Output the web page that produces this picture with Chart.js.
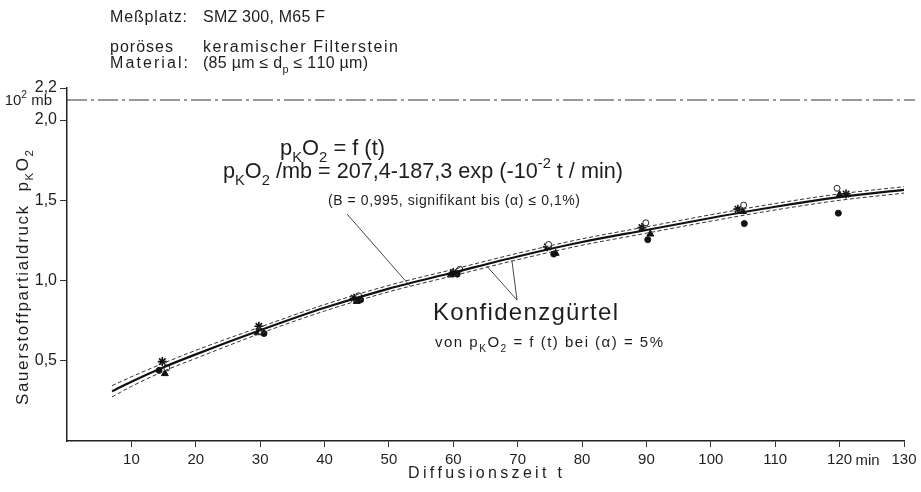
<!DOCTYPE html>
<html><head><meta charset="utf-8">
<script src="https://cdn.jsdelivr.net/npm/chart.js@4.4.0/dist/chart.umd.min.js"></script>
<style>
html,body{margin:0;padding:0;background:#fff;}
#wrap{width:921px;height:492px;position:relative;}
</style></head><body>
<div id="wrap"><canvas id="c" width="921" height="492"></canvas></div>
<script>
// ---- data ----
const xTickValues = [10,20,30,40,50,60,70,80,90,100,110,120,130];
const yTickValues = [0.5,1.0,1.5,2.0,2.2];

const fitT  = [7, 10, 15, 20, 30, 40, 50, 60, 70, 80, 90, 100, 110, 120, 130];
const fitP  = [0.31, 0.37, 0.46, 0.54, 0.69, 0.83, 0.95, 1.05, 1.15, 1.24, 1.315, 1.39, 1.46, 1.52, 1.565];
const bandUpperP = [0.345, 0.40, 0.485, 0.565, 0.71, 0.85, 0.97, 1.07, 1.17, 1.26, 1.335, 1.41, 1.48, 1.54, 1.585];
const bandLowerP = [0.275, 0.34, 0.435, 0.515, 0.67, 0.81, 0.93, 1.03, 1.13, 1.22, 1.295, 1.37, 1.44, 1.50, 1.545];

const refLineT = [0, 131.7];
const refLineP = [2.125, 2.125];

const dotT   = [14.3, 30.6, 45.6, 60.6, 75.6, 90.2, 105.2, 119.8];
const dotP   = [0.44, 0.67, 0.88, 1.04, 1.165, 1.255, 1.355, 1.42];
const circT  = [15.5, 30.2, 45.3, 61.0, 74.8, 89.9, 105.1, 119.6];
const circP  = [0.455, 0.68, 0.905, 1.07, 1.225, 1.36, 1.47, 1.575];
const triT   = [15.2, 29.6, 45.0, 59.6, 75.9, 90.6, 105.0, 120.0];
const triP   = [0.42, 0.675, 0.87, 1.035, 1.17, 1.29, 1.43, 1.535];
const starT  = [14.8, 29.8, 44.6, 60.0, 74.6, 89.3, 104.2, 121.0];
const starP  = [0.495, 0.715, 0.89, 1.05, 1.21, 1.33, 1.445, 1.54];

// ---- helpers ----
const FONT = '"Liberation Sans", Arial, sans-serif';
const INK = '#1e1e1e';
const pts = (xs, ys) => xs.map((x, i) => ({x, y: ys[i]}));

function drawRich(ctx, parts, x, y, size, o = {}) {
  const fam = o.family || FONT;
  const segs = parts.map(p => {
    const t = Array.isArray(p) ? p[0] : p;
    const m = Array.isArray(p) ? (p[1] || '') : '';
    const s = m ? size * 0.68 : size;
    const dy = m === 'sub' ? size * 0.32 : (m === 'sup' ? -size * 0.45 : 0);
    return {t, s, dy};
  });
  let W0 = 0, n = 0;
  for (const g of segs) {
    ctx.font = g.s + 'px ' + fam;
    for (const ch of g.t) { W0 += ctx.measureText(ch).width; n++; }
  }
  let extra = 0, sx = 1;
  if (o.width) {
    extra = (o.width - W0) / Math.max(1, n - 1);
    if (extra < 0) { extra = 0; sx = o.width / W0; }
  }
  const total = o.width || W0;
  const sxp = o.align === 'center' ? x - total / 2 : (o.align === 'right' ? x - total : x);
  ctx.save();
  ctx.translate(sxp, y);
  if (o.rotate) ctx.rotate(o.rotate);
  ctx.scale(sx, 1);
  ctx.fillStyle = o.color || INK;
  ctx.textAlign = 'left';
  ctx.textBaseline = 'alphabetic';
  let cx = 0;
  for (const g of segs) {
    ctx.font = g.s + 'px ' + fam;
    for (const ch of g.t) { ctx.fillText(ch, cx, g.dy); cx += ctx.measureText(ch).width + extra; }
  }
  ctx.restore();
}

const textPlugin = {
  id: 'texts',
  afterDraw(chart) {
    const ctx = chart.ctx;
    const xs = chart.scales.x, ys = chart.scales.y;
    const P = (t, v) => [xs.getPixelForValue(t), ys.getPixelForValue(v)];

    // header
    drawRich(ctx, ['Meßplatz:'], 110, 22, 16, {width: 77});
    drawRich(ctx, ['SMZ 300, M65 F'], 203, 22, 16, {width: 122});
    drawRich(ctx, ['poröses'], 110, 52, 16, {width: 63});
    drawRich(ctx, ['keramischer Filterstein'], 203, 52, 16, {width: 195});
    drawRich(ctx, ['Material:'], 110, 68, 16, {width: 78});
    drawRich(ctx, ['(85 µm ≤ d', ['p', 'sub'], ' ≤ 110 µm)'], 203, 68, 16, {width: 165});

    // unit label
    drawRich(ctx, ['10', ['2', 'sup'], ' mb'], 52, 105, 15, {align: 'right'});

    // equation block
    drawRich(ctx, ['p', ['K', 'sub'], 'O', ['2', 'sub'], ' = f (t)'], 280, 155, 22, {width: 105});
    drawRich(ctx, ['p', ['K', 'sub'], 'O', ['2', 'sub'], ' /mb = 207,4-187,3 exp (-10', ['-2', 'sup'], ' t / min)'], 223, 178, 22, {width: 400});
    drawRich(ctx, ['(B = 0,995, signifikant bis (α) ≤ 0,1%)'], 328, 205, 14, {width: 252});

    // Konfidenz labels
    drawRich(ctx, ['Konfidenzgürtel'], 433, 320, 24, {width: 185});
    drawRich(ctx, ['von p', ['K', 'sub'], 'O', ['2', 'sub'], ' = f (t) bei (α) = 5%'], 435, 347, 15, {width: 228});

    // leader lines
    ctx.save();
    ctx.strokeStyle = '#333';
    ctx.lineWidth = 0.9;
    ctx.beginPath();
    ctx.moveTo(347, 214); ctx.lineTo(...P(53.3, 0.965));
    ctx.moveTo(517, 300); ctx.lineTo(...P(65.2, 1.09));
    ctx.moveTo(517, 300); ctx.lineTo(...P(69.1, 1.125));
    ctx.stroke();
    ctx.restore();

    // axis titles
    drawRich(ctx, ['Sauerstoffpartialdruck  p', ['K', 'sub'], 'O', ['2', 'sub']], 28, 405, 17, {width: 255, rotate: -Math.PI / 2});
    drawRich(ctx, ['Diffusionszeit t'], 485, 478, 16, {width: 154, align: 'center'});

    // "min" after 120
    const x120 = xs.getPixelForValue(120);
    drawRich(ctx, ['min'], x120 + 16, 465, 15, {width: 24});
  }
};

new Chart(document.getElementById('c'), {
  type: 'scatter',
  data: {
    datasets: [
      {data: pts(fitT, bandUpperP), showLine: true, borderColor: '#333', borderWidth: 1, borderDash: [4, 2.5], pointRadius: 0, tension: 0.4, cubicInterpolationMode: 'monotone'},
      {data: pts(fitT, bandLowerP), showLine: true, borderColor: '#333', borderWidth: 1, borderDash: [4, 2.5], pointRadius: 0, tension: 0.4, cubicInterpolationMode: 'monotone'},
      {data: pts(fitT, fitP), showLine: true, borderColor: '#111', borderWidth: 2.2, pointRadius: 0, tension: 0.4, cubicInterpolationMode: 'monotone'},
      {data: pts(refLineT, refLineP), showLine: true, borderColor: '#333', borderWidth: 1.1, borderDash: [20, 4, 3, 4], pointRadius: 0, clip: false},
      {data: pts(dotT, dotP), pointStyle: 'circle', pointRadius: 3, backgroundColor: '#111', borderColor: '#111', borderWidth: 1},
      {data: pts(circT, circP), pointStyle: 'circle', pointRadius: 3, backgroundColor: '#fff', borderColor: '#222', borderWidth: 1},
      {data: pts(triT, triP), pointStyle: 'triangle', pointRadius: 4, backgroundColor: '#111', borderColor: '#111', borderWidth: 1},
      {data: pts(starT, starP), pointStyle: 'star', pointRadius: 4.5, backgroundColor: '#111', borderColor: '#111', borderWidth: 1.6}
    ]
  },
  options: {
    responsive: false,
    animation: false,
    events: [],
    layout: {padding: {left: 0, top: 88, right: 17, bottom: 0}},
    plugins: {legend: {display: false}, tooltip: {enabled: false}},
    scales: {
      x: {
        type: 'linear', min: 0, max: 130,
        afterBuildTicks: s => { s.ticks = xTickValues.map(v => ({value: v})); },
        afterFit: s => { s.height = 51; },
        grid: {display: true, drawOnChartArea: false, drawTicks: true, tickLength: 6, color: '#333', lineWidth: 1},
        border: {display: true, color: '#222', width: 1.5},
        ticks: {font: {family: FONT, size: 15}, color: INK, padding: 4, maxRotation: 0, autoSkip: false, callback: v => String(v)}
      },
      y: {
        type: 'linear', min: 0, max: 2.2,
        afterBuildTicks: s => { s.ticks = yTickValues.map(v => ({value: v})); },
        afterFit: s => { s.width = 67; },
        grid: {display: true, drawOnChartArea: false, drawTicks: true, tickLength: 7, color: '#333', lineWidth: 1},
        border: {display: true, color: '#222', width: 1.5},
        ticks: {font: {family: FONT, size: 16}, color: INK, padding: 3, autoSkip: false, callback: v => v.toFixed(1).replace('.', ',')}
      }
    }
  },
  plugins: [textPlugin]
});
</script>
</body></html>
